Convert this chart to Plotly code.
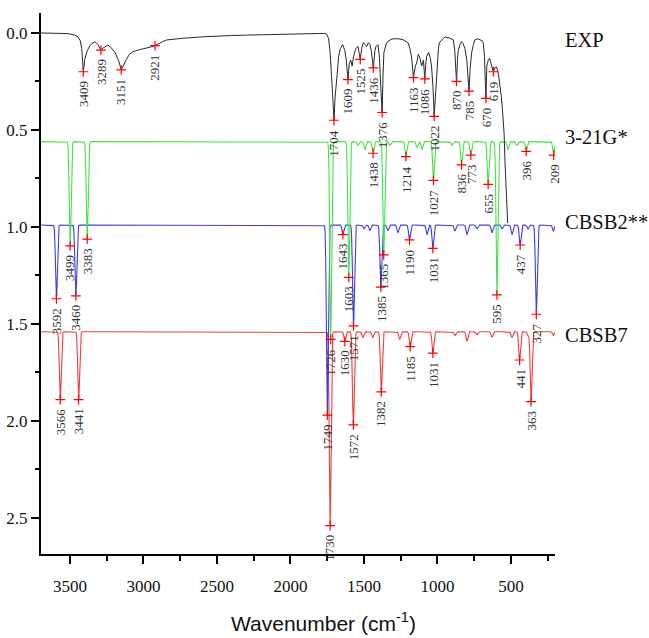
import numpy as np
import plotly.graph_objects as go

# ---- Experimental spectrum (traced absorbance, offset 0) ----
exp_wn = [3697, 3600, 3520, 3470, 3445, 3430, 3420, 3409, 3398, 3382, 3360, 3330, 3310, 3289,
          3270, 3241, 3215, 3194, 3170, 3151, 3135, 3119, 3095, 3071, 3020, 2978, 2940, 2921,
          2900, 2870, 2842, 2800, 2730, 2600, 2502, 2400, 2300, 2162, 2000, 1900, 1822, 1780,
          1765, 1750, 1740, 1730, 1720, 1712, 1704, 1696, 1683, 1672, 1660, 1645, 1630, 1620,
          1609, 1600, 1590, 1580, 1570, 1555, 1540, 1525, 1515, 1505, 1490, 1482, 1470, 1459,
          1450, 1436, 1425, 1418, 1405, 1395, 1385, 1376, 1370, 1364, 1346, 1320, 1301, 1260,
          1233, 1200, 1187, 1175, 1163, 1150, 1141, 1130, 1119, 1107, 1095, 1086, 1078, 1073,
          1060, 1048, 1040, 1030, 1022, 1010, 1001, 993, 987, 965, 949, 920, 892, 882, 870,
          862, 858, 846, 835, 825, 813, 800, 785, 777, 767, 755, 745, 725, 711, 695, 688, 680,
          670, 664, 654, 645, 638, 630, 619, 610, 598, 585, 575, 565, 557, 546, 541, 534, 528, 522]
exp_abs = [0.0, 0.0, 0.003, 0.01, 0.02, 0.04, 0.08, 0.20, 0.13, 0.09, 0.06, 0.045, 0.06, 0.088,
           0.075, 0.062, 0.08, 0.10, 0.14, 0.19, 0.16, 0.14, 0.11, 0.096, 0.085, 0.079, 0.07, 0.065,
           0.055, 0.045, 0.036, 0.032, 0.027, 0.02, 0.015, 0.013, 0.011, 0.009, 0.006, 0.004, 0.002, 0.0,
           0.002, 0.01, 0.03, 0.10, 0.20, 0.33, 0.45, 0.33, 0.22, 0.12, 0.08, 0.06, 0.09, 0.14,
           0.24, 0.16, 0.14, 0.17, 0.12, 0.08, 0.07, 0.136, 0.08, 0.05, 0.06, 0.07, 0.05, 0.06,
           0.09, 0.18, 0.09, 0.07, 0.06, 0.12, 0.28, 0.41, 0.22, 0.10, 0.05, 0.035, 0.03, 0.03,
           0.035, 0.05, 0.08, 0.13, 0.23, 0.17, 0.155, 0.11, 0.13, 0.17, 0.14, 0.237, 0.15, 0.12,
           0.10, 0.13, 0.17, 0.28, 0.43, 0.26, 0.17, 0.08, 0.05, 0.03, 0.02, 0.025, 0.035, 0.09, 0.25,
           0.12, 0.09, 0.06, 0.045, 0.055, 0.08, 0.14, 0.30, 0.18, 0.10, 0.06, 0.035, 0.03, 0.035, 0.04, 0.05, 0.12,
           0.337, 0.17, 0.14, 0.13, 0.15, 0.17, 0.20, 0.18, 0.175, 0.21, 0.26, 0.33, 0.40, 0.52, 0.65, 0.81, 0.92, 0.98]
exp_peak_wn = [3409, 3289, 3151, 2921, 1704, 1609, 1525, 1436, 1376, 1163, 1086, 1022, 870, 785, 670, 619]
exp_peak_abs = [0.20, 0.088, 0.19, 0.065, 0.45, 0.24, 0.136, 0.18, 0.41, 0.23, 0.237, 0.43, 0.25, 0.30, 0.337, 0.20]

# ---- Calculated spectra: band positions, tip values, printed labels ----
g321_base = 0.56
g321_wn = [3499, 3383, 1726, 1603, 1541, 1494, 1438, 1365, 1323, 1214, 1139, 1105, 1027,
           901, 836, 773, 655, 595, 520, 459, 396, 209]
g321_tip = [1.098, 1.063, 1.58, 1.26, 0.58, 0.60, 0.62, 1.144, 0.58, 0.637, 0.59, 0.60, 0.76,
            0.58, 0.68, 0.63, 0.78, 1.35, 0.60, 0.58, 0.61, 0.63]
g321_lab = ["3499", "3383", "1726", "1603", "", "", "1438", "1365", "", "1214", "", "", "1027",
            "", "836", "773", "655", "595", "", "", "396", "209"]

b2_base = 0.99
b2_wn = [3592, 3460, 1749, 1643, 1571, 1500, 1460, 1385, 1337, 1269, 1190, 1071, 1031,
         881, 799, 731, 629, 561, 493, 437, 384, 327, 211]
b2_tip = [1.37, 1.355, 1.97, 1.04, 1.51, 1.01, 1.02, 1.31, 1.02, 1.03, 1.067, 1.04, 1.11,
          1.02, 1.04, 1.01, 1.03, 1.01, 1.04, 1.093, 1.01, 1.45, 1.02]
b2_lab = ["3592", "3460", "1749", "1643", "1571", "", "", "1385", "", "", "1190", "", "1031",
          "", "", "", "", "", "", "437", "", "327", ""]

b7_base = 1.54
b7_wn = [3566, 3441, 1730, 1630, 1572, 1507, 1441, 1382, 1257, 1185, 1031, 881, 799,
         731, 629, 493, 441, 384, 363, 211]
b7_tip = [1.89, 1.89, 2.54, 1.59, 2.02, 1.57, 1.57, 1.85, 1.58, 1.617, 1.65, 1.56, 1.59,
          1.555, 1.57, 1.57, 1.686, 1.56, 1.90, 1.56]
b7_lab = ["3566", "3441", "1730", "1630", "1572", "", "", "1382", "", "1185", "1031", "", "",
          "", "", "", "441", "", "363", ""]

series_names = ["EXP", "3-21G*", "CBSB2**", "CBSB7"]
name_y = [0.036, 0.536, 0.974, 1.557]

GREEN = "rgb(70,225,70)"
BLUE = "rgb(60,60,235)"
RED = "rgb(240,60,60)"
BLACK = "rgb(40,40,40)"

grid = np.arange(3697, 199.5, -0.5)
SIGMA = 6.0


def broadened(base, wn, tip):
    y = np.full_like(grid, base, dtype=float)
    for w, t in zip(wn, tip):
        y += (t - base) * np.exp(-((grid - w) ** 2) / (2 * SIGMA ** 2))
    return y


fig = go.Figure()
for base, wn, tip, col in [(b7_base, b7_wn, b7_tip, RED),
                           (b2_base, b2_wn, b2_tip, BLUE),
                           (g321_base, g321_wn, g321_tip, GREEN)]:
    fig.add_trace(go.Scatter(x=grid, y=broadened(base, wn, tip), mode="lines",
                             line=dict(color=col, width=1.1), hoverinfo="skip",
                             showlegend=False))

fig.add_trace(go.Scatter(x=exp_wn, y=exp_abs, mode="lines",
                         line=dict(color=BLACK, width=1.0), showlegend=False))

# peak markers and rotated labels
mk_x, mk_y = list(exp_peak_wn), list(exp_peak_abs)
labels = [(w, a, str(w)) for w, a in zip(exp_peak_wn, exp_peak_abs)]
for wn, tip, lab in [(g321_wn, g321_tip, g321_lab), (b2_wn, b2_tip, b2_lab), (b7_wn, b7_tip, b7_lab)]:
    for w, t, l in zip(wn, tip, lab):
        if l:
            mk_x.append(w)
            mk_y.append(t)
            labels.append((w, t, l))

fig.add_trace(go.Scatter(x=mk_x, y=mk_y, mode="markers",
                         marker=dict(symbol="cross-thin", size=7,
                                     line=dict(color="red", width=1.2)),
                         showlegend=False))

annotations = []
for w, t, l in labels:
    annotations.append(dict(x=w, y=t, xref="x", yref="y", text=l, showarrow=False,
                            textangle=-90, xanchor="center", yanchor="top", yshift=-7,
                            font=dict(family="Liberation Serif", size=13, color="#333")))

for nm, yy in zip(series_names, name_y):
    annotations.append(dict(x=1.0155, y=yy, xref="paper", yref="y", text=nm, showarrow=False,
                            xanchor="left", yanchor="middle",
                            font=dict(family="Liberation Serif", size=20.5, color="#111")))

annotations.append(dict(x=0.549, y=0, xref="paper", yref="paper", yshift=-68,
                        text="Wavenumber (cm<sup>-1</sup>)", showarrow=False,
                        xanchor="center", yanchor="middle",
                        font=dict(family="Liberation Sans", size=21, color="#111")))

fig.update_layout(
    width=649, height=638,
    margin=dict(l=41, r=94, t=13, b=84, autoexpand=False),
    paper_bgcolor="white", plot_bgcolor="white",
    annotations=annotations,
    xaxis=dict(range=[3697, 200], tick0=0, dtick=500, ticks="outside", ticklen=8,
               tickwidth=1.5, tickcolor="black", showline=True, linewidth=2, linecolor="black",
               showgrid=False, zeroline=False, ticklabelstandoff=8, automargin=False,
               tickfont=dict(family="Liberation Serif", size=17, color="#111"),
               minor=dict(dtick=250, tick0=0, ticks="outside", ticklen=5, tickwidth=1.5,
                          tickcolor="black", showgrid=False)),
    yaxis=dict(range=[2.686, -0.103], tick0=0, dtick=0.5, tickformat=".1f", ticks="outside",
               ticklen=8, tickwidth=1.5, tickcolor="black", showline=True, linewidth=2,
               linecolor="black", showgrid=False, zeroline=False, automargin=False,
               tickfont=dict(family="Liberation Serif", size=17, color="#111"),
               minor=dict(dtick=0.25, tick0=0, ticks="outside", ticklen=4, tickwidth=1.5,
                          tickcolor="black", showgrid=False)),
)

fig.write_html("out.html")
